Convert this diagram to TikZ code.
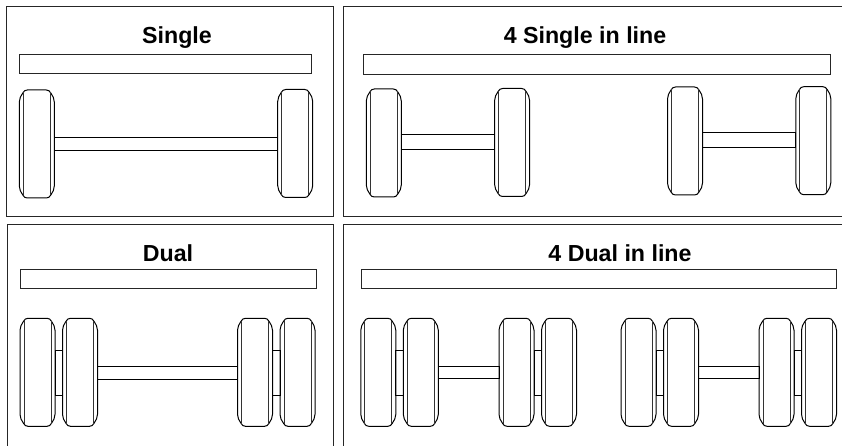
\documentclass[tikz,border=0pt]{standalone}
\usepackage{fontspec}
\setmainfont{Liberation Sans}
\tikzset{
  panel/.style={draw=black!85,line width=0.9pt,anchor=north west,inner sep=0pt,outer sep=0pt},
  deck/.style={draw=black!85,line width=0.9pt,anchor=north west,inner sep=0pt,outer sep=0pt},
  title/.style={anchor=base,inner sep=0pt,font=\fontsize{23.2}{23}\selectfont\bfseries},
  wheelbox/.style={anchor=north west,inner sep=0pt,outer sep=0pt,minimum width=35pt,minimum height=108pt},
  tyre/.style={draw=black,line width=1pt},
  groove/.style={draw=black!80,line width=0.8pt},
  axle/.style={draw=black,line width=0.9pt}
}
\newcommand{\wheel}[3]{%
  \node[wheelbox] (#1) at (#2,#3) {};
  \path[tyre,shift={(#2,#3)}] (0,12) .. controls (0,9) and (1.5,5.5) .. (3.5,3)
    .. controls (4.5,1) and (6,0) .. (8,0) -- (27,0)
    .. controls (29,0) and (30.5,1) .. (31.5,3) .. controls (33.5,5.5) and (35,9) .. (35,12) -- (35,96)
    .. controls (35,99) and (33.5,102.5) .. (31.5,105) .. controls (30.5,107) and (29,108) .. (27,108) -- (8,108)
    .. controls (6,108) and (4.5,107) .. (3.5,105) .. controls (1.5,102.5) and (0,99) .. (0,96) -- cycle;
  \path[groove,shift={(#2,#3)}] (4,2.5) -- (4,105.5);
  \path[groove,shift={(#2,#3)}] (31,2.5) -- (31,105.5);
}
\newcommand{\axlebar}[4]{%
  \path[axle] (#1.east |- 0,#3) rectangle (#2.west |- 0,#4);
}
\begin{document}
\begin{tikzpicture}[x=1pt,y=-1pt]
\useasboundingbox (0,0) rectangle (842,446);
\clip (0,0) rectangle (842,446);

\node[panel,minimum width=326.5pt,minimum height=210pt] (single) at (6.7,6) {};
\node[panel,minimum width=520pt,minimum height=210pt] (singles) at (343.3,6) {};
\node[panel,minimum width=326pt,minimum height=240pt] (dual) at (7.3,224.5) {};
\node[panel,minimum width=520pt,minimum height=240pt] (duals) at (343.3,224.5) {};

\node[title] (t1) at (177,43.5) {Single};
\node[title] (t2) at (585,44) {4 Single in line};
\node[title] (t3) at (168,261.5) {Dual};
\node[title] (t4) at (620,261.5) {4 Dual in line};

\node[deck,minimum width=292pt,minimum height=19pt] (d1) at (19.3,54) {};
\node[deck,minimum width=467.4pt,minimum height=20pt] (d2) at (363.3,54) {};
\node[deck,minimum width=295.6pt,minimum height=19pt] (d3) at (20.7,269.3) {};
\node[deck,minimum width=475.4pt,minimum height=19pt] (d4) at (361.3,269.3) {};

\wheel{a1}{19.3}{90}
\wheel{a2}{277.7}{89.5}
\axlebar{a1}{a2}{137.3}{150.3}

\wheel{b1}{366.3}{89}
\wheel{b2}{494.6}{88.5}
\axlebar{b1}{b2}{134.3}{149.3}
\wheel{b3}{667.5}{87}
\wheel{b4}{795.8}{86.7}
\axlebar{b3}{b4}{132.7}{147.3}

\wheel{c1}{20}{318.3}
\wheel{c2}{62.5}{318.3}
\wheel{c3}{237.5}{318.3}
\wheel{c4}{280}{318.3}
\axlebar{c1}{c2}{350}{395.3}
\axlebar{c2}{c3}{366.7}{379.3}
\axlebar{c3}{c4}{350}{395.3}

\wheel{e1}{360.8}{318.3}
\wheel{e2}{403.3}{318.3}
\wheel{e3}{499}{318.3}
\wheel{e4}{541.5}{318.3}
\axlebar{e1}{e2}{350}{395.3}
\axlebar{e2}{e3}{366.4}{378.7}
\axlebar{e3}{e4}{350}{395.3}
\wheel{e5}{621}{318.3}
\wheel{e6}{663.5}{318.3}
\wheel{e7}{759}{318.3}
\wheel{e8}{801.5}{318.3}
\axlebar{e5}{e6}{350}{395.3}
\axlebar{e6}{e7}{366.4}{378.7}
\axlebar{e7}{e8}{350}{395.3}
\end{tikzpicture}
\end{document}
